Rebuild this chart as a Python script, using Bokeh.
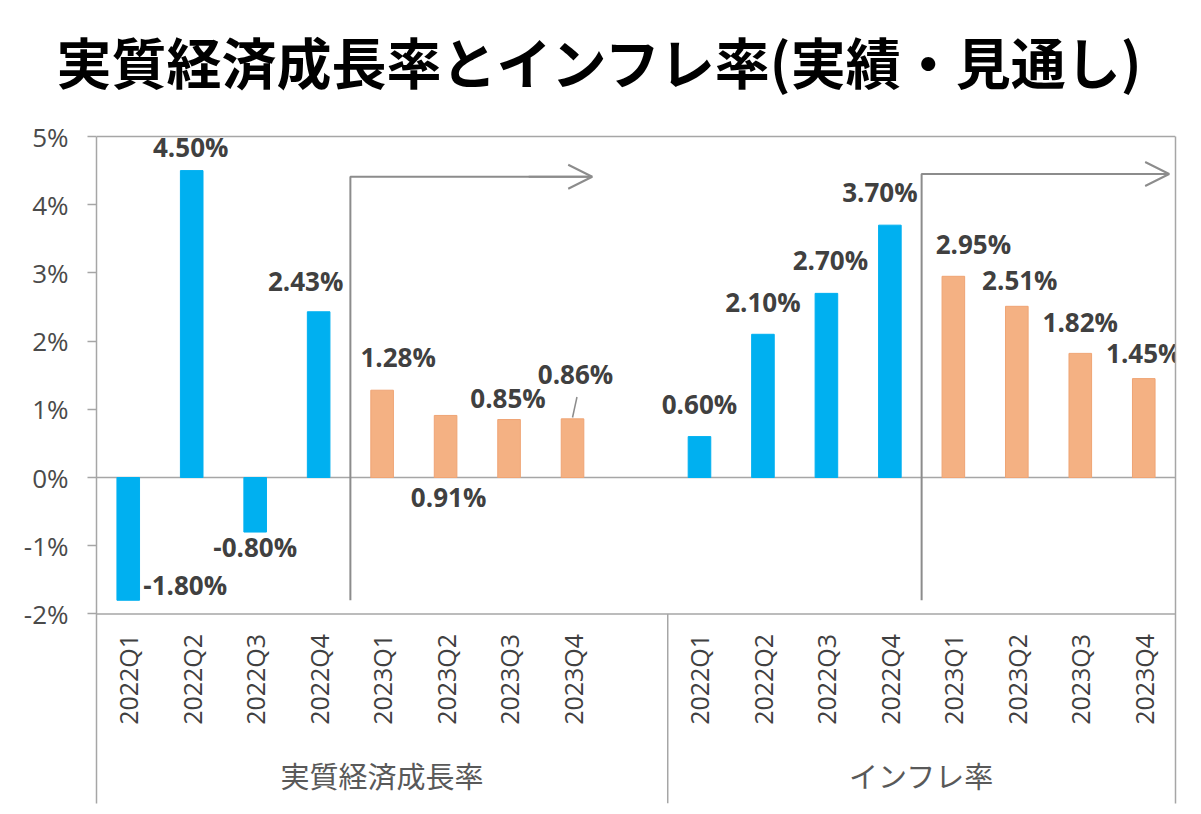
import math
from bokeh.plotting import figure
from bokeh.models import (FactorRange, Range1d, ColumnDataSource, Span, Arrow, OpenHead,
                          FixedTicker, PrintfTickFormatter, LinearAxis)
from bokeh.core.properties import value
from bokeh.embed import file_html
from bokeh.resources import INLINE

# ---------------- data ----------------
title_text = "実質経済成長率とインフレ率(実績・見通し)"
groups = ["実質経済成長率", "インフレ率"]
quarters = ["2022Q1", "2022Q2", "2022Q3", "2022Q4", "2023Q1", "2023Q2", "2023Q3", "2023Q4"]
gdp_growth = [-1.80, 4.50, -0.80, 2.43, 1.28, 0.91, 0.85, 0.86]
inflation = [0.60, 2.10, 2.70, 3.70, 2.95, 2.51, 1.82, 1.45]
status = ["実績", "実績", "実績", "実績", "見通し", "見通し", "見通し", "見通し"]
y_ticks = [-2, -1, 0, 1, 2, 3, 4, 5]

# label placement (pixel offsets from bar end), styling only
gdp_label_dx = [57, -1, 0, -13, 16, 3, -1, 3]
gdp_label_dy = [-15, -24, 15, -31, -33, 82, -22, -45]
inf_label_dx = [0, 0, 4, -10, 20, 3, 0, 0]
inf_label_dy = [-33, -32, -33, -33, -32, -26, -31, -26]

# ---------------- styles ----------------
BLUE = "#00B0F0"
ORANGE = "#F4B183"
ORANGE_EDGE = "#EFA474"
AXIS = "#A6A6A6"
ARROW = "#8C8C8C"
TXT = "#404040"
PX_PER_UNIT = 68.2

# ---------------- ranges ----------------
blank = " "
factors = ([(groups[0], q) for q in quarters] + [(groups[0], blank)]
           + [(groups[1], q) for q in quarters])
x_range = FactorRange(factors=factors, factor_padding=0, group_padding=0,
                      subgroup_padding=0, range_padding=0)
y_top = y_ticks[-1]
y_min = -4.78
y_range = Range1d(y_min, y_top + 20 / PX_PER_UNIT)

p = figure(width=1193, height=806, x_range=x_range, y_range=y_range,
           output_backend="svg", toolbar_location=None, x_axis_location=None,
           min_border_left=96, min_border_right=18, min_border_top=116,
           min_border_bottom=3)
p.outline_line_color = None
p.xgrid.visible = False
p.ygrid.visible = False
p.background_fill_color = "white"
p.border_fill_color = "white"

# title
p.title.text = title_text
p.title.text_font = "Noto Sans CJK JP"
p.title.text_font_size = "55px"
p.title.text_font_style = "bold"
p.title.text_color = "black"
p.title.align = "left"
p.title.standoff = 34
p.title.offset = -40

# y axis
yax = p.yaxis[0]
yax.bounds = (y_min, y_top)
yax.ticker = FixedTicker(ticks=y_ticks)
yax.formatter = PrintfTickFormatter(format="%d%%")
yax.major_tick_out = 9
yax.major_tick_in = 0
yax.minor_tick_out = 0
yax.minor_tick_in = 0
yax.axis_line_color = AXIS
yax.axis_line_width = 1.5
yax.major_tick_line_color = AXIS
yax.major_tick_line_width = 1.5
yax.major_label_text_font = "Open Sans"
yax.major_label_text_font_size = "26px"
yax.major_label_text_color = "#4a4a4a"
yax.major_label_standoff = 19

# right border as a bare axis line
rax = LinearAxis(bounds=(y_min, y_top), ticker=FixedTicker(ticks=[]),
                 axis_line_color=AXIS, axis_line_width=1.5,
                 major_tick_out=0, major_tick_in=0, minor_tick_out=0, minor_tick_in=0,
                 major_label_text_font_size="0px")
p.add_layout(rax, "right")

# horizontal frame lines (5%, 0%, -2%)
for loc in (y_top, 0, y_ticks[0]):
    p.add_layout(Span(location=loc, dimension="width", line_color=AXIS,
                      line_width=1.5, level="underlay"))
sep_x = len(quarters) + 1
p.segment(x0=[sep_x], y0=[y_min], x1=[sep_x], y1=[y_ticks[0]],
          line_color=AXIS, line_width=1.5)

# bars
bar_x = [(groups[0], q) for q in quarters] + [(groups[1], q) for q in quarters]
bar_top = gdp_growth + inflation
bar_status = status + status
bar_fill = [BLUE if s == "実績" else ORANGE for s in bar_status]
bar_line = [BLUE if s == "実績" else ORANGE_EDGE for s in bar_status]
src = ColumnDataSource(dict(x=bar_x, top=bar_top, fill=bar_fill, line=bar_line,
                            text=[f"{v:.2f}%" for v in bar_top],
                            dx=gdp_label_dx + inf_label_dx,
                            dy=gdp_label_dy + inf_label_dy))
p.vbar(x="x", top="top", bottom=0, width=0.356, source=src,
       fill_color="fill", line_color="line", line_width=1)

# value labels
p.text(x="x", y="top", text="text", x_offset="dx", y_offset="dy", source=src,
       text_font=value("Open Sans"), text_font_style="bold", text_font_size="26px",
       text_color=TXT, text_align="center", text_baseline="middle")

# leader line for last GDP label
last = len(quarters) - 1
p.segment(x0=[last + 0.5], y0=[gdp_growth[last] + 0.02],
          x1=[last + 0.57], y1=[gdp_growth[last] + 0.32],
          line_color=ARROW, line_width=1.5)

# category tick labels (below the -2% line)
cat_src = ColumnDataSource(dict(x=bar_x, y=[y_ticks[0]] * len(bar_x),
                                text=quarters + quarters))
p.text(x="x", y="y", text="text", source=cat_src, angle=math.pi / 2, y_offset=20,
       text_font=value("Open Sans"), text_font_size="25px", text_color=TXT,
       text_align="right", text_baseline="middle")

# group labels
p.text(x=groups, y=[y_ticks[0]] * 2, text=groups, y_offset=161,
       text_font=value("Noto Sans CJK JP"), text_font_size="29px",
       text_color="#595959", text_align="center", text_baseline="middle")

# forecast brackets with arrows
n_actual = status.count("実績")
bracket_bottom = min(gdp_growth)
bracket_tops = [4.41, 4.45]
arrow_tips = [7.81, 16.9]
for gi, (top_y, tip) in enumerate(zip(bracket_tops, arrow_tips)):
    x0 = gi * (len(quarters) + 1) + n_actual
    p.line(x=[x0, x0, tip], y=[bracket_bottom, top_y, top_y],
           line_color=ARROW, line_width=2)
    p.add_layout(Arrow(end=OpenHead(size=24, line_color=ARROW, line_width=2),
                       x_start=tip - 1, y_start=top_y, x_end=tip, y_end=top_y,
                       line_color=ARROW, line_width=2))

open("out.html", "w").write(file_html(p, INLINE))
